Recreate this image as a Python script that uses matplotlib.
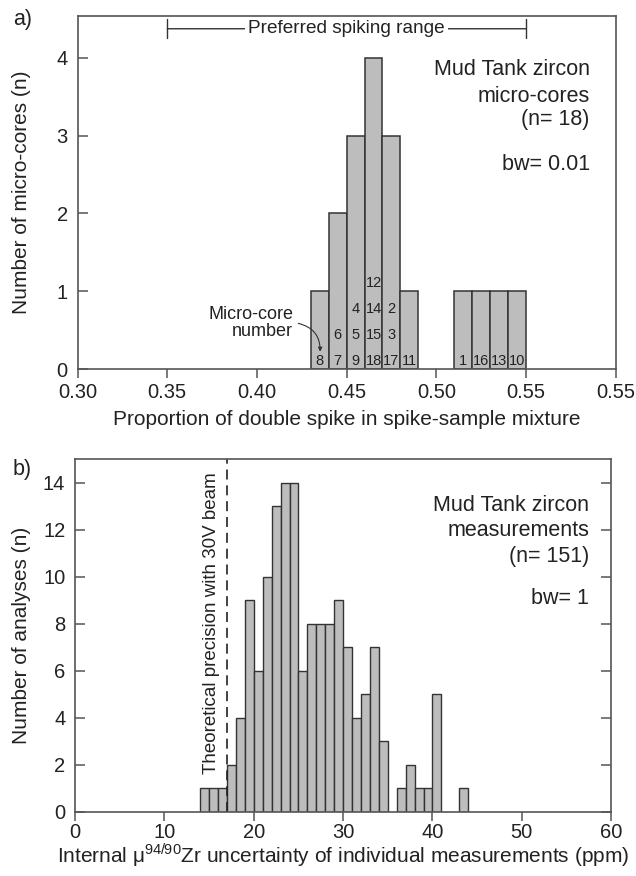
import matplotlib
matplotlib.use('Agg')
import matplotlib.pyplot as plt
import numpy as np

plt.rcParams['font.family'] = ['Liberation Sans', 'DejaVu Sans']
plt.rcParams['mathtext.fontset'] = 'custom'
plt.rcParams['mathtext.rm'] = 'Liberation Sans'

# panel a: micro-core spike proportions (bin left edges, counts, core numbers bottom->top)
a_left = [0.43, 0.44, 0.45, 0.46, 0.47, 0.48, 0.51, 0.52, 0.53, 0.54]
a_count = [1, 2, 3, 4, 3, 1, 1, 1, 1, 1]
a_cores = [[8], [7, 6], [9, 5, 4], [18, 15, 14, 12], [17, 3, 2], [11],
           [1], [16], [13], [10]]
a_ticks = [0.30, 0.35, 0.40, 0.45, 0.50, 0.55, 0.60]
a_ticklabels = ['0.30', '0.35', '0.40', '0.45', '0.50', '0.55', '0.55']
a_range = [0.35, 0.55]

# panel b: internal uncertainty histogram (bw = 1 ppm)
b_left = list(range(14, 44))
b_count = [1, 1, 1, 2, 4, 9, 6, 10, 13, 14, 14, 6, 8, 8, 8,
           9, 7, 4, 5, 7, 3, 0, 1, 2, 1, 1, 5, 0, 0, 1]
b_theory = 17

bar_color = '#bdbdbd'
edge_color = '#333333'
spine_color = '#555555'
text_color = '#222222'

fig = plt.figure(figsize=(6.36, 8.76), dpi=100)
ax1 = fig.add_axes([0.122, 0.5784, 0.846, 0.4039])
ax2 = fig.add_axes([0.118, 0.0735, 0.843, 0.4022])


def style_axes(ax, right_ticks, xpad):
    for s in ax.spines.values():
        s.set_color(spine_color)
        s.set_linewidth(1.2)
    ax.tick_params(axis='y', direction='in', length=7.5, width=1.1, color=spine_color,
                   labelsize=14.5, labelcolor=text_color, right=right_ticks, pad=7)
    ax.tick_params(axis='x', direction='out', length=6.5, width=1.1, color=spine_color,
                   labelsize=14.5, labelcolor=text_color, pad=xpad)


# ---- panel a ----
ax1.bar(a_left, a_count, width=0.01, align='edge', color=bar_color,
        edgecolor=edge_color, linewidth=1.1)
for left, cores in zip(a_left, a_cores):
    for k, c in enumerate(cores):
        ax1.text(left + 0.005, 0.11 + 0.333 * k, str(c), ha='center', va='center',
                 fontsize=10.5, color=text_color)

ax1.set_xlim(0.30, 0.60)
ax1.set_ylim(0, 4.54)
ax1.set_xticks(a_ticks)
ax1.set_xticklabels(a_ticklabels)
ax1.set_yticks([0, 1, 2, 3, 4])
style_axes(ax1, False, 3.0)
ax1.set_xlabel('Proportion of double spike in spike-sample mixture', fontsize=15,
               color=text_color, va='baseline')
ax1.set_ylabel('Number of micro-cores (n)', fontsize=15, color=text_color)
ax1.xaxis.set_label_coords(0.5, -0.158)
ax1.yaxis.set_label_coords(-0.0875, 0.5)

# preferred spiking range bracket
ax1.annotate('', xy=(a_range[1], 4.37), xytext=(a_range[0], 4.37),
             arrowprops=dict(arrowstyle='|-|, widthA=0.5, widthB=0.5', color='#333333',
                             lw=1.0, shrinkA=0, shrinkB=0, mutation_scale=14))
ax1.text(np.mean(a_range), 4.37, 'Preferred spiking range', ha='center', va='center',
         fontsize=13.7, color=text_color,
         bbox=dict(facecolor='white', edgecolor='none', pad=2.5))

# micro-core number callout
ax1.text(0.4202, 0.60, 'Micro-core\nnumber', ha='right', va='center',
         multialignment='right', fontsize=13, color=text_color, linespacing=1.0)
ax1.annotate('', xy=(0.4352, 0.226), xytext=(0.423, 0.59),
             arrowprops=dict(arrowstyle='-|>', connectionstyle='arc3,rad=-0.4',
                             color='#333333', lw=0.8, mutation_scale=6,
                             shrinkA=0, shrinkB=0))

for txt, yy in zip(['Mud Tank zircon', 'micro-cores', '(n= 18)', 'bw= 0.01'],
                   [0.846, 0.770, 0.705, 0.578]):
    ax1.text(0.952, yy, txt, transform=ax1.transAxes, ha='right', va='center',
             fontsize=15.5, color=text_color)

# ---- panel b ----
b_left_arr = np.array(b_left)
b_count_arr = np.array(b_count)
nz = b_count_arr > 0
ax2.bar(b_left_arr[nz], b_count_arr[nz], width=1, align='edge', color=bar_color,
        edgecolor=edge_color, linewidth=1.0)
ax2.axvline(b_theory, color='#222222', lw=1.2, linestyle=(0, (6, 3.5)))
ax2.text(15.25, 1.6, 'Theoretical precision with 30V beam', rotation=90,
         ha='center', va='bottom', fontsize=13.5, color=text_color)

ax2.set_xlim(0, 60)
ax2.set_ylim(0, 15)
ax2.set_xticks(np.arange(0, 61, 10))
ax2.set_yticks(np.arange(0, 15, 2))
style_axes(ax2, True, 2.0)
ax2.set_xlabel(r'Internal μ$^{\rm 94/90}$Zr uncertainty of individual measurements (ppm)',
               fontsize=15, color=text_color, va='baseline')
ax2.set_ylabel('Number of analyses (n)', fontsize=15, color=text_color)
ax2.xaxis.set_label_coords(0.5, -0.145)
ax2.yaxis.set_label_coords(-0.083, 0.5)

for txt, yy in zip(['Mud Tank zircon', 'measurements', '(n= 151)', 'bw= 1'],
                   [0.870, 0.799, 0.7235, 0.606]):
    ax2.text(0.959, yy, txt, transform=ax2.transAxes, ha='right', va='center',
             fontsize=15.5, color=text_color)

fig.text(0.035, 0.978, 'a)', fontsize=15.5, ha='center', va='center', color=text_color)
fig.text(0.035, 0.4635, 'b)', fontsize=15.5, ha='center', va='center', color=text_color)

fig.savefig('out.png', dpi=100)
